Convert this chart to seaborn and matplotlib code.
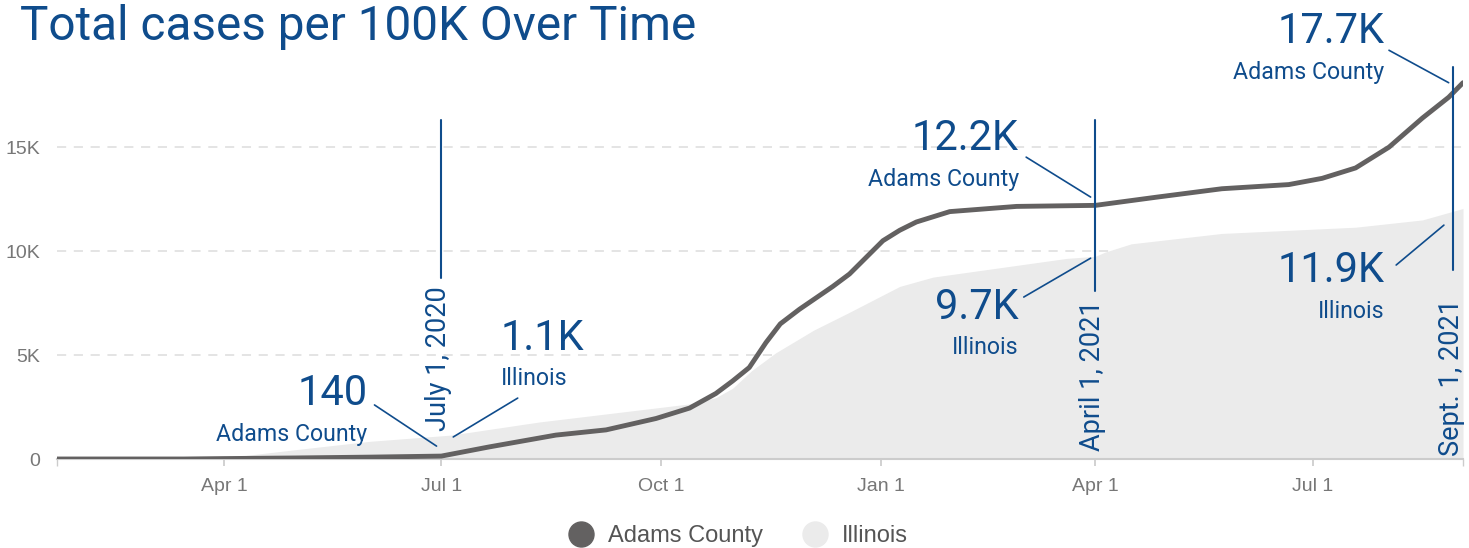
import pandas as pd
import matplotlib.pyplot as plt
from matplotlib.lines import Line2D
from matplotlib.ticker import FuncFormatter
import seaborn as sns

# Cumulative cases per 100K
adams_dates = ['2020-01-22', '2020-03-15', '2020-04-01', '2020-05-01', '2020-06-01',
               '2020-07-01', '2020-07-21', '2020-08-18', '2020-09-08', '2020-09-29',
               '2020-10-13', '2020-10-24', '2020-10-31', '2020-11-07', '2020-11-14',
               '2020-11-20', '2020-11-28', '2020-12-12', '2020-12-19', '2020-12-26',
               '2021-01-02', '2021-01-09', '2021-01-16', '2021-01-30', '2021-02-27',
               '2021-04-01', '2021-04-27', '2021-05-24', '2021-06-21', '2021-07-05',
               '2021-07-19', '2021-08-02', '2021-08-16', '2021-08-27', '2021-09-02']
adams_cases = [0, 0, 20, 50, 90,
               140, 580, 1150, 1400, 1950,
               2450, 3150, 3750, 4400, 5600,
               6500, 7200, 8300, 8900, 9700,
               10500, 11000, 11400, 11900, 12150,
               12200, 12600, 13000, 13200, 13500,
               14000, 15000, 16400, 17400, 18100]

illinois_dates = ['2020-01-22', '2020-03-20', '2020-04-01', '2020-05-01', '2020-06-01',
                  '2020-07-05', '2020-08-11', '2020-09-22', '2020-10-13', '2020-10-24',
                  '2020-10-31', '2020-11-08', '2020-11-18', '2020-12-04', '2020-12-18',
                  '2021-01-09', '2021-01-23', '2021-02-20', '2021-03-20', '2021-04-01',
                  '2021-04-05', '2021-04-16', '2021-05-24', '2021-07-19', '2021-08-16',
                  '2021-09-02']
illinois_cases = [0, 0, 50, 450, 850,
                  1150, 1780, 2360, 2650, 2950,
                  3400, 4250, 5100, 6200, 7000,
                  8300, 8750, 9200, 9650, 9750,
                  9950, 10350, 10850, 11150, 11500,
                  12050]

tick_dates = ['2020-04-01', '2020-07-01', '2020-10-01', '2021-01-01', '2021-04-01', '2021-07-01']
tick_labels = ['Apr 1', 'Jul 1', 'Oct 1', 'Jan 1', 'Apr 1', 'Jul 1']

blue = '#0f4c8c'
dark = '#636161'
light = '#ebebeb'
narrow = ['Liberation Sans Narrow', 'Liberation Sans']

adams = pd.DataFrame({'date': pd.to_datetime(adams_dates), 'cases': adams_cases})
illinois = pd.DataFrame({'date': pd.to_datetime(illinois_dates), 'cases': illinois_cases})

sns.set_theme(style='white')
plt.rcParams['font.family'] = ['Roboto', 'DejaVu Sans']

fig = plt.figure(figsize=(14.69, 5.48), dpi=100)
ax = fig.add_axes([57 / 1469, 89 / 548, 1406 / 1469, 395 / 548])

ax.fill_between(illinois['date'], illinois['cases'], color=light, lw=0, zorder=1)
sns.lineplot(data=adams, x='date', y='cases', color=dark, lw=3.5, ax=ax, zorder=3)

x0, x1 = pd.Timestamp('2020-01-22'), pd.Timestamp('2021-09-02')
ax.set_xlim(x0, x1)
ax.set_ylim(0, 19000)

# axes styling
for s in ['top', 'right', 'left']:
    ax.spines[s].set_visible(False)
ax.spines['bottom'].set_color('#cccccc')
ax.spines['bottom'].set_linewidth(1.5)
ax.set_yticks([0, 5000, 10000, 15000])
ax.yaxis.set_major_formatter(FuncFormatter(lambda v, p: '0' if v == 0 else f'{int(v/1000)}K'))
for y in [5000, 10000, 15000]:
    ax.axhline(y, color='#dddddd', lw=1.1, ls=(0, (6, 5)), zorder=0)
ax.set_xticks(pd.to_datetime(tick_dates))
ax.set_xticklabels(tick_labels)
ax.set_xticks([x0, x1], minor=True)
ax.tick_params(axis='x', which='both', length=5, color='#cccccc', pad=9, labelsize=14,
               labelcolor='#777777', bottom=True)
ax.tick_params(axis='y', length=0, pad=12, labelsize=14, labelcolor='#777777')
for lab in ax.get_xticklabels() + ax.get_yticklabels():
    lab.set_family(narrow)
ax.set_xlabel('')
ax.set_ylabel('')
if ax.get_legend():
    ax.get_legend().remove()

d = pd.Timestamp
td = pd.Timedelta

# vertical date markers: date, line top, line bottom, text top, text
markers = [(d('2020-07-01'), 16300, 8700, 8300, 'July 1, 2020'),
           (d('2021-04-01'), 16300, 8100, 7650, 'April 1, 2021'),
           (d('2021-08-29'), 18850, 9100, 7700, 'Sept. 1, 2021')]
for x, top, bot, ttop, txt in markers:
    ax.plot([x, x], [bot, top], color=blue, lw=1.5, clip_on=False, zorder=5)
    ax.text(x - td(days=1), ttop, txt, rotation=90, ha='center', va='top',
            color=blue, fontsize=19.5, zorder=5)

# value callouts: label edge, number y, number, place name, alignment, leader line
callouts = [
    (d('2020-05-31'), 3150, '140', 'Adams County', 'right',
     [(d('2020-06-03'), 2600), (d('2020-06-29'), 620)]),
    (d('2020-07-26'), 5800, '1.1K', 'Illinois', 'left',
     [(d('2020-07-06'), 1060), (d('2020-08-02'), 2930)]),
    (d('2021-02-28'), 15400, '12.2K', 'Adams County', 'right',
     [(d('2021-03-03'), 14520), (d('2021-03-30'), 12600)]),
    (d('2021-02-28'), 7300, '9.7K', 'Illinois', 'right',
     [(d('2021-03-02'), 7790), (d('2021-03-30'), 9660)]),
    (d('2021-07-31'), 20550, '17.7K', 'Adams County', 'right',
     [(d('2021-08-02'), 19660), (d('2021-08-27'), 18100)]),
    (d('2021-07-31'), 9050, '11.9K', 'Illinois', 'right',
     [(d('2021-08-05'), 9330), (d('2021-08-25'), 11250)]),
]
for x, y, num, name, ha, seg in callouts:
    ax.text(x, y, num, ha=ha, va='center', color=blue, fontsize=30, zorder=5, clip_on=False)
    ax.text(x, y - 1950, name, ha=ha, va='center', color=blue, fontsize=16.7, zorder=5,
            clip_on=False)
    (sx, sy), (ex, ey) = seg
    ax.plot([sx, ex], [sy, ey], color=blue, lw=1.2, clip_on=False, zorder=5)

fig.text(20 / 1469, 0.993, 'Total cases per 100K Over Time', ha='left', va='top',
         color=blue, fontsize=34.4)

handles = [Line2D([], [], marker='o', ls='', markersize=18, markerfacecolor=dark,
                  markeredgecolor=dark, label='Adams County'),
           Line2D([], [], marker='o', ls='', markersize=18, markerfacecolor=light,
                  markeredgecolor=light, label='Illinois')]
leg = fig.legend(handles=handles, loc='center', bbox_to_anchor=(0.502, 0.022), ncol=2,
                 frameon=False, fontsize=17, handlelength=1.2, handletextpad=0.55,
                 columnspacing=1.6, borderpad=0.1)
for t in leg.get_texts():
    t.set_color('#555555')
    t.set_family(narrow)

fig.savefig('out.png', dpi=100)
